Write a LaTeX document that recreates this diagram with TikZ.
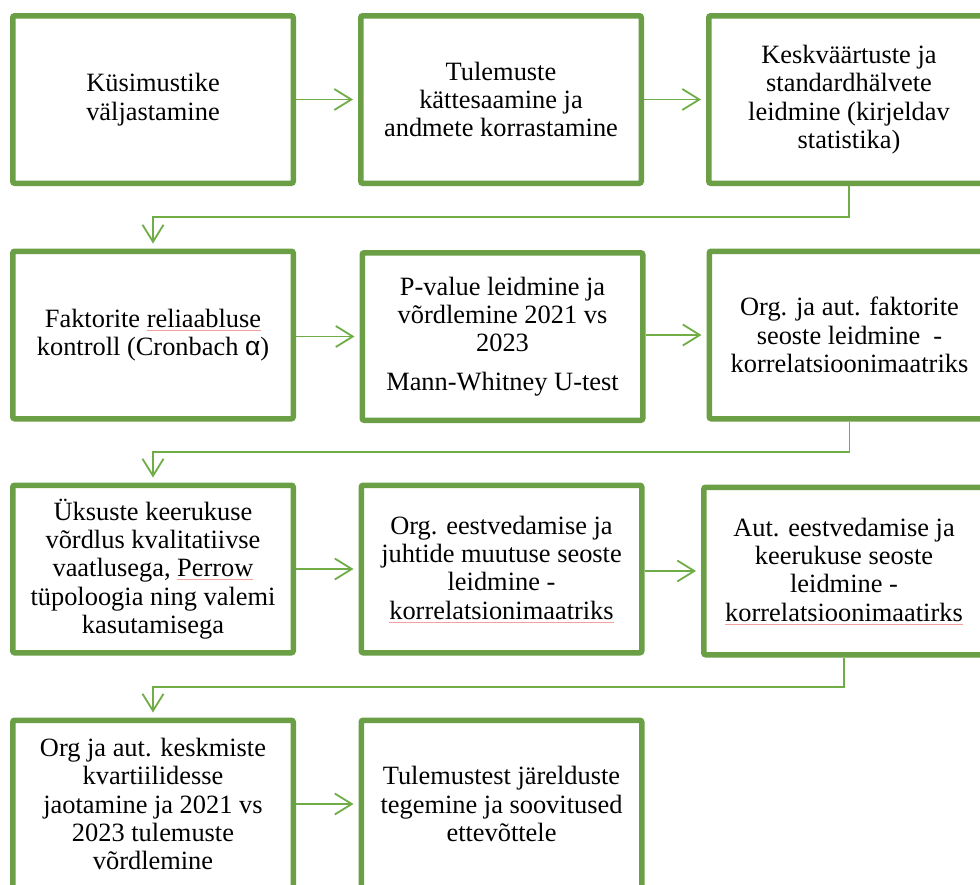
\documentclass[tikz,border=0pt]{standalone}
\usepackage{fontspec}
\setmainfont{Liberation Serif}
\setsansfont{Liberation Sans}
\usetikzlibrary{arrows.meta}
\definecolor{boxgreen}{HTML}{6A9F45}
\definecolor{linkgreen}{HTML}{70AD47}
\definecolor{proofred}{HTML}{F2A0A0}
% thin red proofing underline under a word
\newsavebox\spellbox
\newcommand\spellmark[1]{\sbox\spellbox{#1}\rlap{\textcolor{proofred}{\rule[-3pt]{\wd\spellbox}{0.6pt}}}\usebox\spellbox}

\begin{document}
\begin{tikzpicture}[x=1pt,y=-1pt,
  stepbox/.style={draw=boxgreen, line width=5.5pt, rounded corners=2pt, fill=white,
    minimum width=280.5pt, minimum height=167.5pt, align=center, inner sep=0pt,
    font={\fontsize{26.4}{28.3}\selectfont}},
  link/.style={draw=linkgreen, line width=1.8pt,
    -{Straight Barb[length=17pt,width=21pt]}, shorten >=5pt}]

\useasboundingbox (0,0) rectangle (980,884);
\fill[white] (0,0) rectangle (980,884);
\clip (0,0) rectangle (980,884);

% row 1
\node[stepbox] (b1) at (153,99.5) {Küsimustike\\väljastamine};
\node[stepbox] (b2) at (501,99.5) {Tulemuste\\kättesaamine ja\\andmete korrastamine};
\node[stepbox] (b3) at (849,99.5) {Keskväärtuste ja\\standardhälvete\\leidmine (kirjeldav\\statistika)};

% row 2
\node[stepbox] (b4) at (153,335) {Faktorite \spellmark{reliaabluse}\\kontroll (Cronbach {\sffamily α})};
\node[stepbox] (b5) at (502.5,336.5) {P-value leidmine ja\\võrdlemine 2021 vs\\2023\\[10pt]Mann-Whitney U-test};
\node[stepbox] (b6) at (849.5,335) {Org. ja aut. faktorite\\seoste leidmine~~-\\korrelatsioonimaatriks};

% row 3
\node[stepbox] (b7) at (153,569) {Üksuste keerukuse\\võrdlus kvalitatiivse\\vaatlusega, \spellmark{Perrow}\\tüpoloogia ning valemi\\kasutamisega};
\node[stepbox] (b8) at (501.5,569) {Org. eestvedamise ja\\juhtide muutuse seoste\\leidmine -\\\spellmark{korrelatsionimaatriks}};
\node[stepbox] (b9) at (844,571) {Aut. eestvedamise ja\\keerukuse seoste\\leidmine -\\\spellmark{korrelatsioonimaatirks}};

% row 4
\node[stepbox] (b10) at (153,804) {Org ja aut. keskmiste\\kvartiilidesse\\jaotamine ja 2021 vs\\2023 tulemuste\\võrdlemine};
\node[stepbox] (b11) at (501.5,804) {Tulemustest järelduste\\tegemine ja soovitused\\ettevõttele};

% bends of the row-to-row connectors
\coordinate (k1) at (153,217);
\coordinate (k2) at (153,452);
\coordinate (k3) at (153,687);

% connectors within rows
\draw[link] (b1.east) -- (b2.west);
\draw[link] (b2.east) -- (b3.west);
\draw[link] (b4.east |- b5.west) -- (b5.west);
\draw[link] (b5.east |- b6.west) -- (b6.west);
\draw[link] (b7.east) -- (b8.west);
\draw[link] (b8.east |- b9.west) -- (b9.west);
\draw[link] (b10.east) -- (b11.west);

% connectors between rows
\draw[link] (b3.south) |- (k1) -- (b4.north);
\draw[link] (b6.south) |- (k2) -- (b7.north);
\draw[link] (b9.south) |- (k3) -- (b10.north);
\end{tikzpicture}
\end{document}
